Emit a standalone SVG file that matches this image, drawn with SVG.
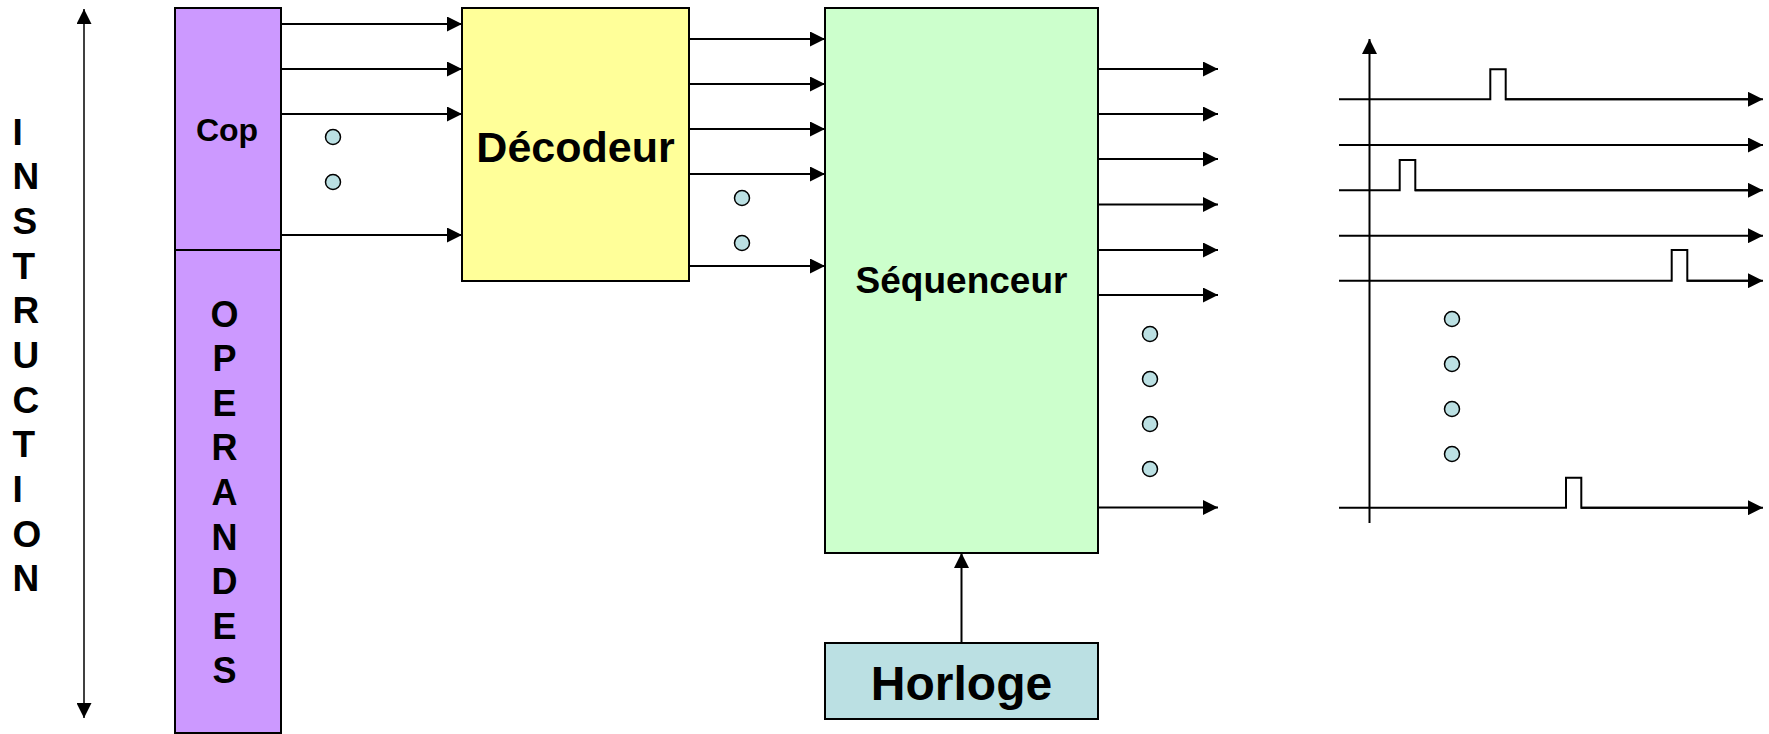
<svg xmlns="http://www.w3.org/2000/svg" width="1769" height="734" viewBox="0 0 1769 734">
<defs>
<marker id="ah" markerUnits="userSpaceOnUse" markerWidth="15" markerHeight="15" refX="15" refY="7.5" orient="auto-start-reverse"><path d="M0,0 L15,7.5 L0,15 z" fill="#000"/></marker>
</defs>
<style>
.box{stroke:#000;stroke-width:2}
.t{font-family:"Liberation Sans",Arial,sans-serif;font-weight:bold;fill:#000}
.c{stroke:#000;stroke-width:2;fill:none;marker-end:url(#ah)}
.dot{fill:#BBE0E3;stroke:#000;stroke-width:1.5}
.sig{fill:none;stroke:#000;stroke-width:2}
</style>
<rect width="1769" height="734" fill="#fff"/>

<g id="instruction-axis">
<line x1="84" y1="9" x2="84" y2="718" stroke="#000" stroke-width="1.5" marker-start="url(#ah)" marker-end="url(#ah)"/>
<g class="t" font-size="37">
<text x="12.5" y="144.5">I</text>
<text x="12.5" y="189.2">N</text>
<text x="12.5" y="233.8">S</text>
<text x="12.5" y="278.5">T</text>
<text x="12.5" y="323.2">R</text>
<text x="12.5" y="367.9">U</text>
<text x="12.5" y="412.5">C</text>
<text x="12.5" y="457.2">T</text>
<text x="12.5" y="501.9">I</text>
<text x="12.5" y="546.5">O</text>
<text x="12.5" y="591.2">N</text>
</g>
</g>

<g id="cop">
<rect class="box" x="175" y="8" width="106" height="242" fill="#CC99FF"/>
<text class="t" font-size="32" x="227" y="141" text-anchor="middle">Cop</text>
</g>

<g id="operandes">
<rect class="box" x="175" y="250" width="106" height="483" fill="#CC99FF"/>
<g class="t" font-size="36" text-anchor="middle">
<text x="224.5" y="326.5">O</text>
<text x="224.5" y="371.1">P</text>
<text x="224.5" y="415.7">E</text>
<text x="224.5" y="460.3">R</text>
<text x="224.5" y="504.9">A</text>
<text x="224.5" y="549.5">N</text>
<text x="224.5" y="594.1">D</text>
<text x="224.5" y="638.7">E</text>
<text x="224.5" y="683.3">S</text>
</g>
</g>

<g id="decodeur">
<rect class="box" x="462" y="8" width="227" height="273" fill="#FFFF99"/>
<text class="t" font-size="43" x="575.5" y="162" text-anchor="middle">Décodeur</text>
</g>

<g id="sequenceur">
<rect class="box" x="825" y="8" width="273" height="545" fill="#CCFFCC"/>
<text class="t" font-size="37" x="961.5" y="293" text-anchor="middle">Séquenceur</text>
</g>

<g id="horloge">
<rect class="box" x="825" y="643" width="273" height="76" fill="#BBE0E3"/>
<text class="t" font-size="48" x="961.5" y="700" text-anchor="middle">Horloge</text>
</g>

<g id="connectors">
<line class="c" x1="281" y1="24" x2="462" y2="24"/>
<line class="c" x1="281" y1="69" x2="462" y2="69"/>
<line class="c" x1="281" y1="114" x2="462" y2="114"/>
<line class="c" x1="281" y1="235" x2="462" y2="235"/>

<line class="c" x1="689" y1="39" x2="825" y2="39"/>
<line class="c" x1="689" y1="84" x2="825" y2="84"/>
<line class="c" x1="689" y1="129" x2="825" y2="129"/>
<line class="c" x1="689" y1="174" x2="825" y2="174"/>
<line class="c" x1="689" y1="266" x2="825" y2="266"/>

<line class="c" x1="1098" y1="69" x2="1218" y2="69"/>
<line class="c" x1="1098" y1="114" x2="1218" y2="114"/>
<line class="c" x1="1098" y1="159" x2="1218" y2="159"/>
<line class="c" x1="1098" y1="204.5" x2="1218" y2="204.5"/>
<line class="c" x1="1098" y1="250" x2="1218" y2="250"/>
<line class="c" x1="1098" y1="295" x2="1218" y2="295"/>
<line class="c" x1="1098" y1="507.5" x2="1218" y2="507.5"/>

<line class="c" x1="961.5" y1="643" x2="961.5" y2="553"/>
</g>

<g id="dots">
<circle class="dot" cx="333" cy="137" r="7.5"/>
<circle class="dot" cx="333" cy="182" r="7.5"/>
<circle class="dot" cx="742" cy="198" r="7.5"/>
<circle class="dot" cx="742" cy="243" r="7.5"/>
<circle class="dot" cx="1150" cy="334" r="7.5"/>
<circle class="dot" cx="1150" cy="379" r="7.5"/>
<circle class="dot" cx="1150" cy="424" r="7.5"/>
<circle class="dot" cx="1150" cy="469" r="7.5"/>
<circle class="dot" cx="1452" cy="319" r="7.5"/>
<circle class="dot" cx="1452" cy="364" r="7.5"/>
<circle class="dot" cx="1452" cy="409" r="7.5"/>
<circle class="dot" cx="1452" cy="454" r="7.5"/>
</g>

<g id="chronogramme">
<line class="c" x1="1369.5" y1="523" x2="1369.5" y2="39"/>
<path class="sig" d="M1339,99.3 H1490.3 V69.3 H1505.7 V99.3 H1749"/>
<line class="c" x1="1505" y1="99.3" x2="1763" y2="99.3"/>
<line class="c" x1="1339" y1="145" x2="1763" y2="145"/>
<path class="sig" d="M1339,190.3 H1399.7 V160 H1415.3 V190.3 H1749"/>
<line class="c" x1="1415" y1="190.3" x2="1763" y2="190.3"/>
<line class="c" x1="1339" y1="235.7" x2="1763" y2="235.7"/>
<path class="sig" d="M1339,280.7 H1671.7 V250 H1687.3 V280.7 H1749"/>
<line class="c" x1="1687" y1="280.7" x2="1763" y2="280.7"/>
<path class="sig" d="M1339,507.7 H1566 V477.7 H1581.3 V507.7 H1749"/>
<line class="c" x1="1581" y1="507.7" x2="1763" y2="507.7"/>
</g>
</svg>
